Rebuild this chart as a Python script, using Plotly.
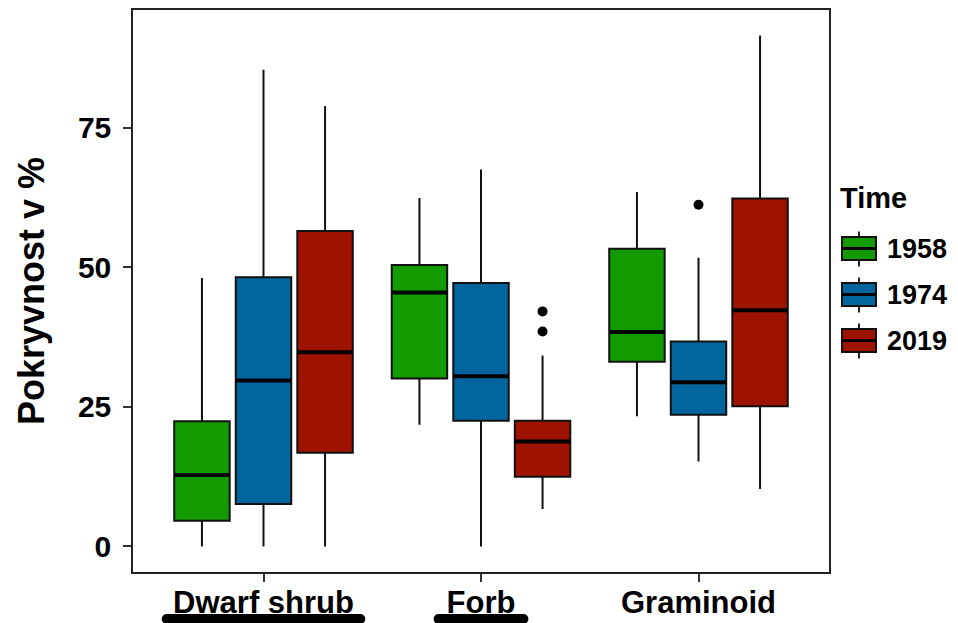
import plotly.graph_objects as go

# ---- data -------------------------------------------------------------
categories = ["Dwarf shrub", "Forb", "Graminoid"]
years = ["1958", "1974", "2019"]
colors = ["#139A00", "#02659D", "#9E1200"]

# box statistics per year, one value per category (cover in %)
lower_whisker = {"1958": [0.0, 21.8, 23.3], "1974": [0.0, 0.0, 15.2], "2019": [0.0, 6.7, 10.3]}
q1_vals = {"1958": [4.6, 30.1, 33.1], "1974": [7.6, 22.5, 23.6], "2019": [16.8, 12.5, 25.1]}
median_vals = {"1958": [12.8, 45.5, 38.4], "1974": [29.7, 30.5, 29.4], "2019": [34.8, 18.8, 42.3]}
q3_vals = {"1958": [22.4, 50.4, 53.3], "1974": [48.2, 47.2, 36.7], "2019": [56.5, 22.5, 62.3]}
upper_whisker = {"1958": [48.1, 62.4, 63.5], "1974": [85.4, 67.5, 51.7], "2019": [78.9, 34.2, 91.5]}
outlier_vals = {"1974": {"Graminoid": [61.2]}, "2019": {"Forb": [42.1, 38.5]}}

y_ticks = [0, 25, 50, 75]
underlined = {"Dwarf shrub": 0.445, "Forb": 0.195}   # half-width of the marker stroke, in category units

# ---- geometry ---------------------------------------------------------
W, H = 958, 623
L, R, T, B = 133, 129, 10, 51
PW, PH = W - L - R, H - T - B
dodge = 0.283
box_w = 0.255
FONT = "Liberation Sans, Arial, sans-serif"


def px_x(px):
    return (px - L) / PW


def px_y(py):
    return (H - B - py) / PH


cat_pos = {c: i + 1 for i, c in enumerate(categories)}

fig = go.Figure()
shapes = []
annotations = []

for k, (yr, col) in enumerate(zip(years, colors)):
    xs = [cat_pos[c] + (k - 1) * dodge for c in categories]
    fig.add_trace(go.Box(
        x=xs,
        q1=q1_vals[yr], median=median_vals[yr], q3=q3_vals[yr],
        lowerfence=lower_whisker[yr], upperfence=upper_whisker[yr],
        width=box_w, whiskerwidth=0,
        fillcolor=col, line=dict(color="#111111", width=2),
        boxpoints=False, name=yr, showlegend=False, hoverinfo="skip",
    ))
    # thicker median bars
    mx, my = [], []
    for x, m in zip(xs, median_vals[yr]):
        mx += [x - box_w / 2, x + box_w / 2, None]
        my += [m, m, None]
    fig.add_trace(go.Scatter(x=mx, y=my, mode="lines", line=dict(color="black", width=4),
                             showlegend=False, hoverinfo="skip"))
    # outliers
    ox, oy = [], []
    for c, vals in outlier_vals.get(yr, {}).items():
        for v in vals:
            ox.append(cat_pos[c] + (k - 1) * dodge)
            oy.append(v)
    if ox:
        fig.add_trace(go.Scatter(x=ox, y=oy, mode="markers",
                                 marker=dict(color="black", size=10),
                                 showlegend=False, hoverinfo="skip"))

# ---- legend drawn as keys -------------------------------------------
annotations.append(dict(text="<b>Time</b>", x=px_x(838), y=px_y(198), xref="paper", yref="paper",
                        xanchor="left", yanchor="middle", showarrow=False,
                        font=dict(family=FONT, size=29, color="black")))
for k, (yr, col) in enumerate(zip(years, colors)):
    cy = 248.5 + k * 46
    kx0, kx1 = 842, 876
    kxc = (kx0 + kx1) / 2
    shapes.append(dict(type="line", xref="paper", yref="paper", x0=px_x(kxc), x1=px_x(kxc),
                       y0=px_y(cy - 17), y1=px_y(cy + 18), line=dict(color="#222222", width=2)))
    shapes.append(dict(type="rect", xref="paper", yref="paper", x0=px_x(kx0), x1=px_x(kx1),
                       y0=px_y(cy - 11.5), y1=px_y(cy + 11.5), fillcolor=col,
                       line=dict(color="#111111", width=2)))
    shapes.append(dict(type="line", xref="paper", yref="paper", x0=px_x(kx0), x1=px_x(kx1),
                       y0=px_y(cy), y1=px_y(cy), line=dict(color="black", width=3)))
    annotations.append(dict(text=f"<b>{yr}</b>", x=px_x(885), y=px_y(cy), xref="paper", yref="paper",
                            xanchor="left", yanchor="middle", showarrow=False,
                            font=dict(family=FONT, size=27, color="black")))

# ---- marker strokes under some category labels ----------------------
uy = px_y(619)
for c, hw in underlined.items():
    x0, x1 = cat_pos[c] - hw, cat_pos[c] + hw
    shapes.append(dict(type="line", xref="x", yref="paper", x0=x0, x1=x1, y0=uy, y1=uy,
                       line=dict(color="black", width=10)))
    for xe in (x0, x1):
        shapes.append(dict(type="circle", xref="x", yref="paper", xsizemode="pixel", ysizemode="pixel",
                           xanchor=xe, yanchor=uy, x0=-5, x1=5, y0=-5, y1=5,
                           fillcolor="black", line=dict(width=0)))

fig.update_layout(
    width=W, height=H,
    margin=dict(l=L, r=R, t=T, b=B, pad=0, autoexpand=False),
    paper_bgcolor="white", plot_bgcolor="white",
    boxmode="overlay",
    showlegend=False,
    shapes=shapes,
    annotations=annotations,
    font=dict(family=FONT, color="black"),
)
fig.update_xaxes(
    range=[0.4, 3.6], tickvals=[cat_pos[c] for c in categories],
    ticktext=[f"<b>{c}</b>" for c in categories],
    tickfont=dict(family=FONT, size=31, color="black"),
    ticks="outside", ticklen=8, tickwidth=1.5, tickcolor="#333333",
    showline=True, mirror=True, linecolor="#222222", linewidth=1.5,
    showgrid=False, zeroline=False, ticklabelstandoff=-6, automargin=False,
)
fig.update_yaxes(
    range=[-4.58, 96.08], tickvals=y_ticks, ticktext=[f"<b>{v}</b>" for v in y_ticks],
    tickfont=dict(family=FONT, size=30, color="black"),
    ticks="outside", ticklen=8, tickwidth=1.5, tickcolor="#333333",
    showline=True, mirror=True, linecolor="#222222", linewidth=1.5,
    showgrid=False, zeroline=False, ticklabelstandoff=6, automargin=False,
    title=dict(text="<b>Pokryvnost v %</b>", font=dict(family=FONT, size=36, color="black"), standoff=22),
)

fig.write_html("out.html")
